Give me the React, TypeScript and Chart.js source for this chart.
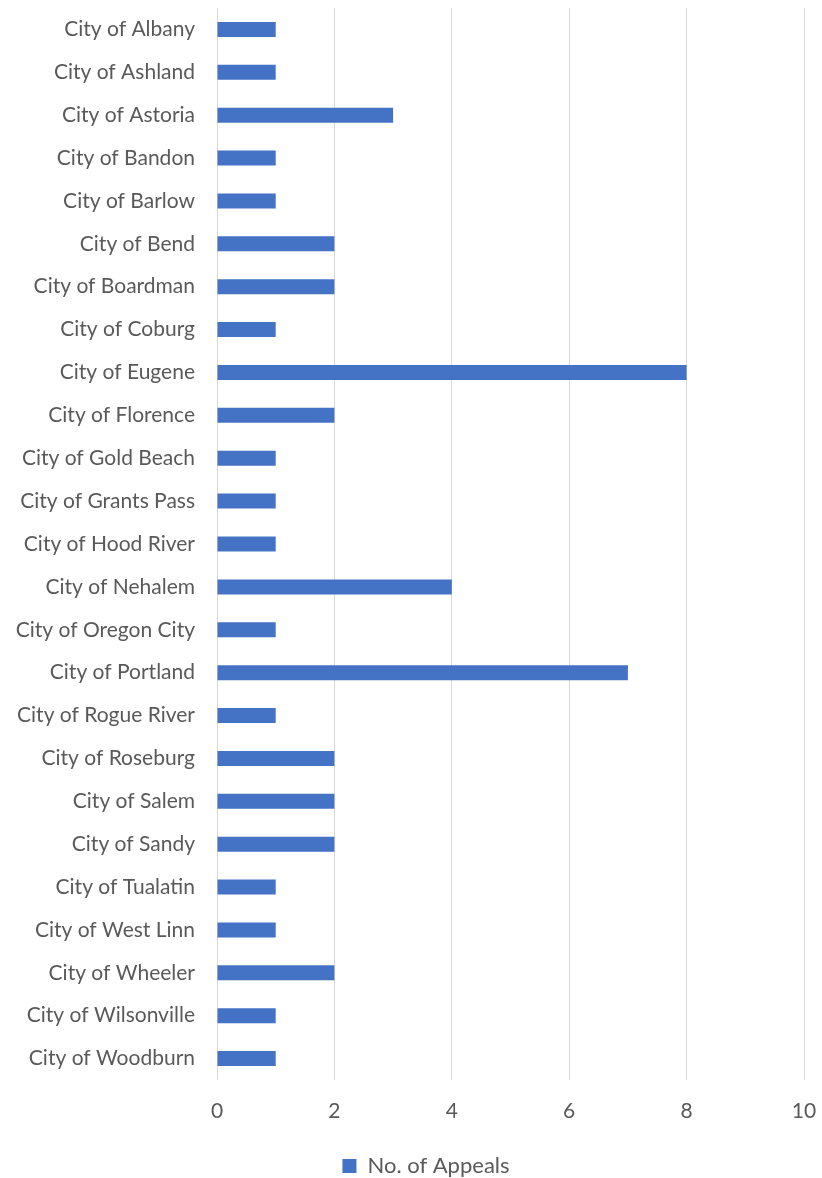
import React, { useEffect, useRef } from "react";
import { Chart, registerables } from "chart.js";

Chart.register(...registerables);

const categories = [
  "City of Albany", "City of Ashland", "City of Astoria", "City of Bandon", "City of Barlow",
  "City of Bend", "City of Boardman", "City of Coburg", "City of Eugene", "City of Florence",
  "City of Gold Beach", "City of Grants Pass", "City of Hood River", "City of Nehalem",
  "City of Oregon City", "City of Portland", "City of Rogue River", "City of Roseburg",
  "City of Salem", "City of Sandy", "City of Tualatin", "City of West Linn", "City of Wheeler",
  "City of Wilsonville", "City of Woodburn",
];
const appeals = [1, 1, 3, 1, 1, 2, 2, 1, 8, 2, 1, 1, 1, 4, 1, 7, 1, 2, 2, 2, 1, 1, 2, 1, 1];
const seriesName = "No. of Appeals";
const xMin = 0;
const xMax = 10;
const xStep = 2;

const FONT = "Lato, 'Open Sans', sans-serif";
const TEXT = "#595959";

const legendShift = {
  id: "legendShift",
  afterLayout(chart: any) {
    const lg = chart.legend;
    if (lg) {
      lg.left += 24;
      lg.right += 24;
    }
  },
};

export default function App() {
  const ref = useRef<HTMLCanvasElement | null>(null);
  useEffect(() => {
    if (!ref.current) return;
    const chart = new Chart(ref.current, {
      type: "bar",
      data: {
        labels: categories,
        datasets: [
          {
            label: seriesName,
            data: appeals,
            backgroundColor: "#4472C4",
            borderWidth: 0,
            categoryPercentage: 1,
            barPercentage: 0.35,
          },
        ],
      },
      plugins: [legendShift],
      options: {
        indexAxis: "y",
        animation: false,
        responsive: false,
        maintainAspectRatio: false,
        layout: { padding: { left: 0, right: 18, top: 8, bottom: -9 } },
        plugins: {
          legend: {
            position: "bottom",
            labels: {
              font: { family: FONT, size: 22 },
              color: TEXT,
              boxWidth: 14,
              boxHeight: 14,
              padding: 3,
            },
          },
          tooltip: { enabled: false },
        },
        scales: {
          x: {
            min: xMin,
            max: xMax,
            ticks: {
              stepSize: xStep,
              font: { family: FONT, size: 21 },
              color: TEXT,
              padding: 19,
            },
            grid: { color: "#d9d9d9", lineWidth: 1, drawTicks: false },
            border: { display: false },
            afterFit: (s: any) => {
              s.height = 72;
              s.paddingLeft = 0;
              s.paddingRight = 0;
            },
          },
          y: {
            ticks: {
              font: { family: FONT, size: 21 },
              color: TEXT,
              padding: 22,
              autoSkip: false,
            },
            grid: { display: false, drawTicks: false },
            border: { display: false },
            afterFit: (s: any) => {
              s.width = 217;
              s.paddingTop = 0;
              s.paddingBottom = 0;
            },
          },
        },
      },
    });
    return () => chart.destroy();
  }, []);
  return (
    <div style={{ position: "absolute", left: 0, top: 0, width: 822, height: 1178, background: "#fff" }}>
      <canvas ref={ref} width={822} height={1178} style={{ width: 822, height: 1178 }} />
    </div>
  );
}
